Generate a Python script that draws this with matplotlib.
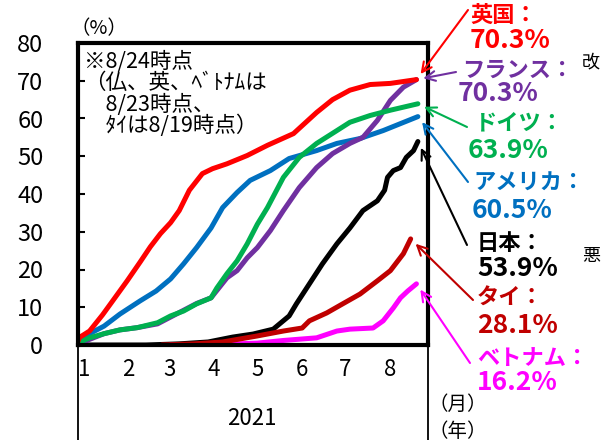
import matplotlib
matplotlib.use("Agg")
import matplotlib.pyplot as plt

plt.rcParams['font.family'] = ['Noto Sans CJK JP', 'DejaVu Sans']

# day of year 2021 (Jan 1 = 0) and vaccination rate (%)
uk_days = [0, 1, 8, 17, 24, 34, 43, 50, 57, 64, 70, 77, 86, 93, 103, 117, 131, 149, 165, 176, 188, 202, 216, 234]
uk_vals = [1.0, 2.0, 3.7, 8.0, 11.7, 17.0, 22.0, 26.0, 29.5, 32.4, 35.6, 41.0, 45.4, 46.7, 48.0, 50.2, 52.9, 56.0, 61.6, 65.0, 67.5, 69.0, 69.3, 70.3]

fr_days = [0, 8, 18, 29, 41, 55, 64, 73, 82, 92, 103, 110, 117, 124, 133, 142, 153, 165, 176, 188, 197, 207, 216, 225, 234]
fr_vals = [0.0, 1.5, 3.0, 4.0, 4.6, 5.6, 7.4, 9.2, 11.0, 12.5, 17.8, 19.7, 23.1, 25.8, 30.3, 35.6, 41.7, 47.0, 50.7, 53.4, 55.0, 59.5, 64.8, 68.3, 70.3]

de_days = [0, 8, 18, 29, 41, 55, 64, 73, 82, 92, 96, 103, 110, 117, 124, 131, 142, 153, 165, 179, 188, 202, 216, 235]
de_vals = [0.5, 1.9, 3.0, 4.0, 4.6, 5.9, 7.7, 9.0, 10.9, 12.5, 15.1, 18.9, 22.3, 26.8, 32.0, 36.4, 44.4, 49.7, 53.4, 56.8, 59.0, 60.8, 62.2, 63.9]

us_days = [0, 8, 18, 29, 43, 54, 64, 73, 82, 92, 100, 110, 119, 133, 146, 165, 179, 195, 211, 235]
us_vals = [0.5, 3.0, 5.0, 8.2, 11.7, 14.3, 17.5, 21.5, 25.8, 31.0, 36.4, 40.4, 43.6, 46.2, 49.4, 51.5, 53.4, 54.7, 56.8, 60.5]

jp_days = [0, 47, 70, 90, 107, 121, 135, 146, 151, 160, 169, 179, 188, 197, 207, 212, 214, 218, 223, 227, 232, 235]
jp_vals = [0.0, 0.0, 0.3, 0.8, 2.1, 2.9, 4.2, 7.7, 10.9, 16.2, 21.5, 26.8, 31.0, 35.6, 38.2, 41.0, 44.4, 46.2, 47.0, 49.7, 51.5, 53.9]

th_days = [58, 80, 100, 124, 142, 155, 160, 172, 183, 195, 207, 216, 225, 230]
th_vals = [0.0, 0.3, 0.8, 2.4, 3.7, 4.5, 6.4, 8.5, 10.9, 13.5, 17.0, 19.7, 24.2, 28.1]

vn_days = [64, 100, 124, 142, 165, 179, 188, 204, 211, 218, 223, 228, 234]
vn_vals = [0.0, 0.2, 0.5, 1.2, 1.9, 3.7, 4.2, 4.5, 6.4, 9.8, 12.5, 14.3, 16.2]

month_starts = [0, 31, 59, 90, 120, 151, 181, 212]
month_labels = ['1', '2', '3', '4', '5', '6', '7', '8']

# (days, values, colour, name, value text, name pos, value pos, arrow tail) in pixels
series = [
    (jp_days, jp_vals, '#000000', '日本：', '53.9%', (477, 243), (477, 268), (467, 245)),
    (vn_days, vn_vals, '#FF00FF', 'ベトナム：', '16.2%', (477, 358), (477, 382), (470, 363)),
    (th_days, th_vals, '#C00000', 'タイ：', '28.1%', (477, 298), (477, 325), (473, 300)),
    (us_days, us_vals, '#0070C0', 'アメリカ：', '60.5%', (473, 183), (472, 210), (468, 182)),
    (fr_days, fr_vals, '#7030A0', 'フランス：', '70.3%', (462, 70), (458, 93), (456, 72)),
    (de_days, de_vals, '#00B050', 'ドイツ：', '63.9%', (475, 123), (468, 150), (467, 127)),
    (uk_days, uk_vals, '#FF0000', '英国：', '70.3%', (470, 15), (470, 40), (468, 10)),
]

W, H = 601, 440
def px(x, y):
    return (x / W, 1 - y / H)

fig = plt.figure(figsize=(6.01, 4.4), dpi=100)
ax = fig.add_axes([78 / W, 95 / H, 350 / W, 302 / H])

for d, v, c, name, val, npos, vpos, apos in series:
    ax.plot(d, v, color=c, lw=3.6, solid_capstyle='round')

ax.set_xlim(0, 242)
ax.set_ylim(0, 80)
ax.set_yticks(range(0, 81, 10))
ax.tick_params(axis='y', direction='in', length=5, width=1.5, labelsize=17, pad=25)
ax.set_xticks([m + 4 for m in month_starts])
ax.set_xticklabels(month_labels)
ax.tick_params(axis='x', length=0, labelsize=16, pad=9)
for s in ax.spines.values():
    s.set_linewidth(3)

# thin lines hanging below the plot frame
for xx in (0, 1):
    ax.plot([xx, xx], [0, -0.33], transform=ax.transAxes, color='black', lw=1.3, clip_on=False)

fig.text(*px(252, 418), '2021', fontsize=16, ha='center', va='center')
fig.text(*px(428, 404), '（月）', fontsize=14, ha='left', va='center')
fig.text(*px(428, 431), '（年）', fontsize=14, ha='left', va='center')
fig.text(*px(70, 29), '（%）', fontsize=14, ha='left', va='center')

note = '※8/24時点\n（仏、英、ﾍﾞﾄﾅﾑは\n\u30008/23時点、\n\u3000ﾀｲは8/19時点）'
fig.text(*px(84, 51), note, fontsize=15.5, ha='left', va='top', linespacing=0.95)

# partly visible text at right edge
fig.text(*px(582, 62), '改', fontsize=13, ha='left', va='center')
fig.text(*px(582, 256), '悪', fontsize=13, ha='left', va='center')

for d, v, c, name, val, npos, vpos, apos in series:
    fig.text(*px(*npos), name, color=c, fontsize=16, fontweight='bold', ha='left', va='center')
    fig.text(*px(*vpos), val, color=c, fontsize=19, fontweight='bold', ha='left', va='center')
    ax.annotate('', xy=(d[-1], v[-1]), xycoords='data',
                xytext=px(*apos), textcoords='figure fraction',
                arrowprops=dict(arrowstyle='->,head_length=0.7,head_width=0.35',
                                color=c, lw=1.5, shrinkA=0, shrinkB=5),
                annotation_clip=False)

fig.savefig('out.png', dpi=100)
